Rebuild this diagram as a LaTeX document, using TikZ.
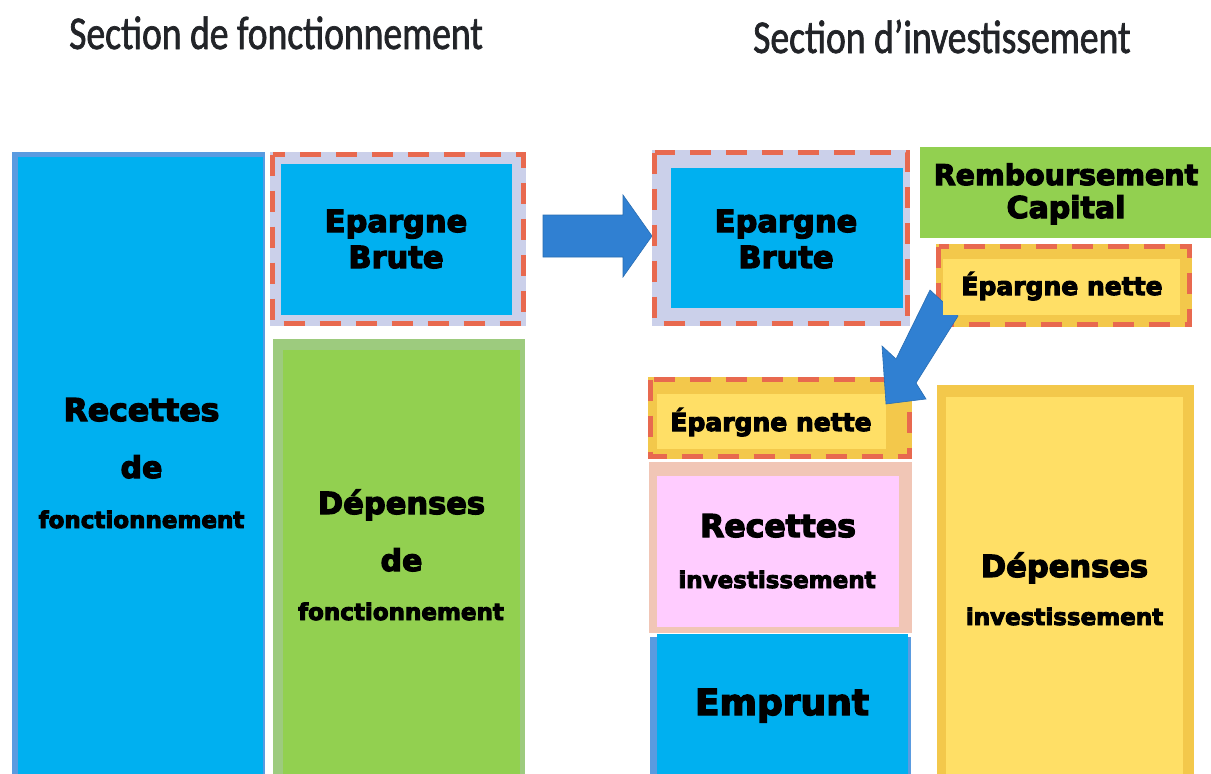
\documentclass[tikz,border=0pt]{standalone}
\usepackage{fontspec}
\newfontfamily\blk{DejaVu Sans}[BoldFeatures={FakeBold=4}]
\newfontfamily\ttl{Carlito}[FakeStretch=0.8,FakeBold=1.4]
\definecolor{bluef}{HTML}{00B0F0}
\definecolor{bbord}{HTML}{5A9BE0}
\definecolor{lav}{HTML}{CBD0EA}
\definecolor{dashred}{HTML}{E8694F}
\definecolor{greenf}{HTML}{92D050}
\definecolor{greenb}{HTML}{9DCB7E}
\definecolor{goldb}{HTML}{F3C84B}
\definecolor{yellowf}{HTML}{FFDF66}
\definecolor{peach}{HTML}{F1C6B6}
\definecolor{pinkf}{HTML}{FFCCFF}
\definecolor{arrowc}{HTML}{3080D2}
\definecolor{titlec}{HTML}{222428}
\begin{document}
\begin{tikzpicture}[x=1pt,y=-1pt,
  lbl/.style={anchor=base,inner sep=0pt,text=black,font=\blk\bfseries\fontsize{#1}{#1}\selectfont},
  ttlstyle/.style={anchor=base west,inner sep=0pt,text=titlec,font=\ttl\fontsize{47}{47}\selectfont},
  dashframe/.style={draw=dashred,line width=5pt,dash pattern=on 21pt off 15pt},
  blockarrow/.style={fill=arrowc,draw=arrowc!85!black,line width=0.6pt}]
\useasboundingbox (0,0) rectangle (1211,774);
\fill[white] (0,0) rectangle (1211,774);

% titles
\node[ttlstyle] (t1) at (69,49) {Section de fonctionnement};
\node[ttlstyle] (t2) at (753,53) {Section d’investissement};

% ---- section de fonctionnement ----
\fill[bbord] (12,152) rectangle (265,774);
\fill[bluef] (18,157) rectangle (263,774);
\node[lbl=31.5] (rf1) at (141.5,421) {Recettes};
\node[lbl=30] (rf2) at (141.5,478) {de};
\node[lbl=23] (rf3) at (141.5,528) {fonctionnement};

\fill[lav] (270,152) rectangle (526,326);
\draw[dashframe] (272.5,154.5) rectangle (523.5,323.5);
\fill[bluef] (281,164) rectangle (512,315);
\node[lbl=30.5] (eb1) at (396,232) {Epargne};
\node[lbl=30.5] (eb2) at (396,268) {Brute};

\fill[greenb] (273,339) rectangle (525,774);
\fill[greenf] (283,350) rectangle (520,774);
\node[lbl=30.5] (df1) at (401.5,514) {Dépenses};
\node[lbl=30] (df2) at (401.5,571) {de};
\node[lbl=23] (df3) at (401,620) {fonctionnement};

% horizontal block arrow
\draw[blockarrow] (543,215) -- (623,215) -- (623,195) -- (652,236) -- (623,277) -- (623,257) -- (543,257) -- cycle;

% ---- section d'investissement ----
\fill[lav] (652,150) rectangle (910,326);
\draw[dashframe] (654.5,152.5) rectangle (907.5,323.5);
\fill[bluef] (671,168) rectangle (903,308);
\node[lbl=30.5] (eb3) at (786,232) {Epargne};
\node[lbl=30.5] (eb4) at (786,268) {Brute};

\fill[greenf] (920,147) rectangle (1211,238);
\node[lbl=28.5] (rc1) at (1066,185) {Remboursement};
\node[lbl=30] (rc2) at (1066,218) {Capital};

% lower epargne nette
\fill[goldb] (648,377) rectangle (912,459);
\draw[dashframe] (650.5,379.5) rectangle (909.5,456.5);
\fill[yellowf] (657,394) rectangle (886,449);

% upper epargne nette frame
\fill[goldb] (936,244) rectangle (1192,327);
\draw[dashframe] (938.5,246.5) rectangle (1189.5,324.5);

% diagonal block arrow
\draw[blockarrow] (930,290) -- (958,316) -- (916,383) -- (926,399) -- (886,404) -- (882,346) -- (896,359) -- cycle;

\fill[yellowf] (943,259) rectangle (1180,315);
\node[lbl=25] (en1) at (1062,295) {Épargne nette};
\node[lbl=25] (en2) at (771,431) {Épargne nette};

% recettes investissement
\fill[peach] (649,462) rectangle (912,633);
\fill[pinkf] (657,476) rectangle (899,627);
\node[lbl=31.5] (ri1) at (778,537) {Recettes};
\node[lbl=23] (ri2) at (777,588) {investissement};

% emprunt
\fill[bbord] (650,637) rectangle (911,774);
\fill[bluef] (657,634) rectangle (908,774);
\node[lbl=36] (em) at (782,715) {Emprunt};

% depenses investissement
\fill[goldb] (937,385) rectangle (1194,774);
\fill[yellowf] (946,397) rectangle (1183,774);
\node[lbl=30.5] (di1) at (1064.5,577) {Dépenses};
\node[lbl=23] (di2) at (1064.5,625) {investissement};
\end{tikzpicture}
\end{document}
